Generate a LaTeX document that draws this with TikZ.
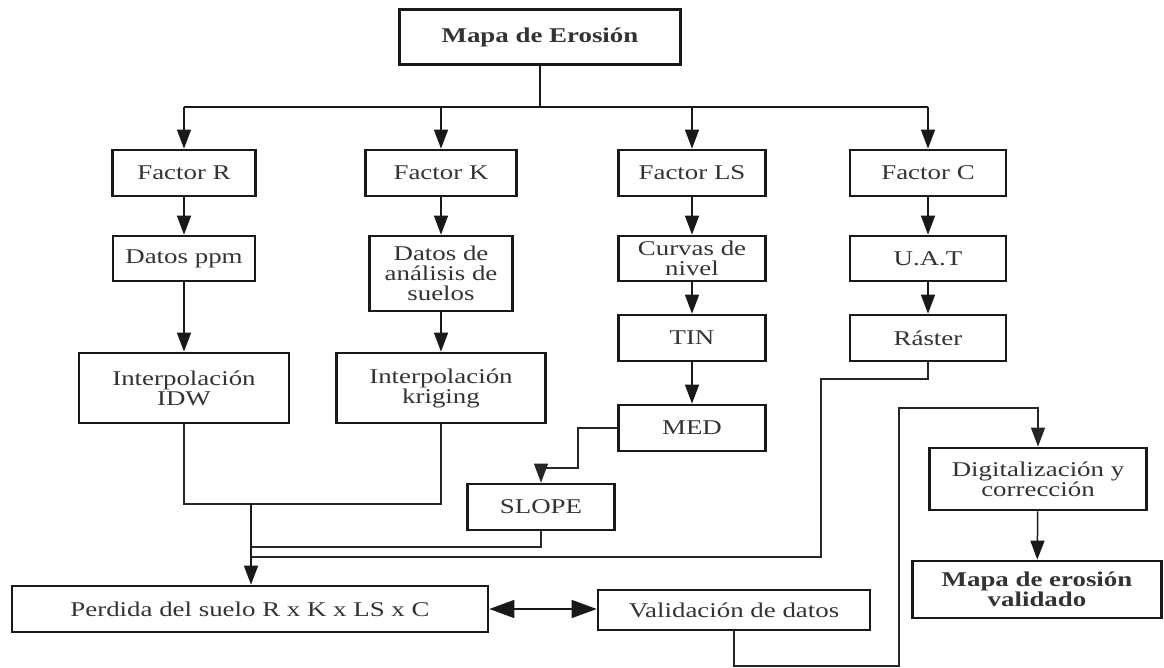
\documentclass[tikz,border=0pt]{standalone}
\usepackage{fontspec}
\setmainfont{Liberation Serif}[FakeStretch=1.28]
\usetikzlibrary{arrows.meta}

\tikzset{
  box/.style={draw=black!90, line width=2.7pt, inner sep=0pt, align=center,
    text=black!80, font=\fontsize{21}{20}\selectfont},
  link/.style={draw=black!90, line width=1.5pt},
  thin link/.style={draw=black!85, line width=1.2pt},
  arr/.style={link, -{Triangle[width=14pt,length=19pt]}},
  dbl/.style={link, {Triangle[width=18pt,length=25pt]}-{Triangle[width=18pt,length=25pt]}},
}

\begin{document}
\begin{tikzpicture}[x=1pt,y=-1pt]
\useasboundingbox (0,0) rectangle (1164,668);

% boxes
\node[box, minimum width=281pt, minimum height=55pt, font=\fontsize{21}{20}\selectfont\bfseries] (top) at (540,37) {Mapa de Erosión};

\node[box, minimum width=143pt, minimum height=46pt] (fR)  at (184,173) {Factor R};
\node[box, minimum width=151pt, minimum height=46pt] (fK)  at (441,173) {Factor K};
\node[box, minimum width=147pt, minimum height=46pt] (fLS) at (692,173) {Factor LS};
\node[box, minimum width=156pt, minimum height=46pt] (fC)  at (928,173) {Factor C};

\node[box, minimum width=142pt, minimum height=45pt] (ppm)    at (184,258.5) {Datos ppm};
\node[box, minimum width=143pt, minimum height=75pt] (suelos) at (441,273.5) {Datos de\\análisis de\\suelos};
\node[box, minimum width=147pt, minimum height=45pt] (curvas) at (692,258.5) {Curvas de\\nivel};
\node[box, minimum width=156pt, minimum height=45pt] (uat)    at (928,258.5) {U.A.T};

\node[box, minimum width=210pt, minimum height=70pt] (idw)    at (184,388) {Interpolación\\IDW};
\node[box, minimum width=209pt, minimum height=70pt] (krig)   at (441,388) {Interpolación\\kriging};
\node[box, minimum width=147pt, minimum height=46pt] (tin)    at (692,338) {TIN};
\node[box, minimum width=156pt, minimum height=46pt] (raster) at (928,338) {Ráster};

\node[box, minimum width=147pt, minimum height=46pt] (med)   at (692,428) {MED};
\node[box, minimum width=147pt, minimum height=46pt] (slope) at (541,507) {SLOPE};

\node[box, minimum width=476pt, minimum height=46pt] (perd)  at (250,609) {Perdida del suelo R x K x LS x C};
\node[box, minimum width=272pt, minimum height=40pt] (valid) at (734,610) {Validación de datos};

\node[box, minimum width=217pt, minimum height=62pt] (digit) at (1038,479) {Digitalización y\\corrección};
\node[box, minimum width=249pt, minimum height=57pt, font=\fontsize{21}{20}\selectfont\bfseries] (final) at (1037,589.5) {Mapa de erosión\\validado};

% routing points
\coordinate (bar) at (540,107);
\coordinate (jn)  at (251,504);
\coordinate (m1)  at (578,468);
\coordinate (s1)  at (251,547);
\coordinate (r1)  at (821,379);
\coordinate (r2)  at (251,557);
\coordinate (v1)  at (899,666);
\coordinate (v2)  at (899,408);

% distribution from the main map
\draw[link] (top.south) -- (bar);
\draw[link] (fR |- bar) -- (fC |- bar);
\foreach \f in {fR,fK,fLS,fC}
  \draw[arr] (\f |- bar) -- (\f.north);

% column chains
\draw[arr] (fR) -- (ppm);
\draw[arr] (ppm) -- (idw);
\draw[arr] (fK) -- (suelos);
\draw[arr] (suelos) -- (krig);
\draw[arr] (fLS) -- (curvas);
\draw[arr] (curvas) -- (tin);
\draw[arr] (tin) -- (med);
\draw[arr] (fC) -- (uat);
\draw[arr] (uat) -- (raster);

% interpolations join and feed the soil loss
\draw[thin link] (idw.south) -- (idw.south |- jn) -- (krig.south |- jn) -- (krig.south);
\draw[arr] (jn) -- (jn |- perd.north);

% MED to SLOPE, SLOPE and raster back to the trunk
\draw[thin link, -{Triangle[width=14pt,length=19pt]}] (med.west) -| (m1) -| (slope.north);
\draw[thin link] (slope.south) |- (s1);
\draw[thin link] (raster.south) |- (r1) |- (r2);

% validation loop
\draw[dbl] (perd.east) -- (perd.east -| valid.west);
\draw[thin link, -{Triangle[width=14pt,length=19pt]}] (valid.south) |- (v1) -- (v2) -| (digit.north);
\draw[arr] (digit) -- (final);
\end{tikzpicture}
\end{document}
